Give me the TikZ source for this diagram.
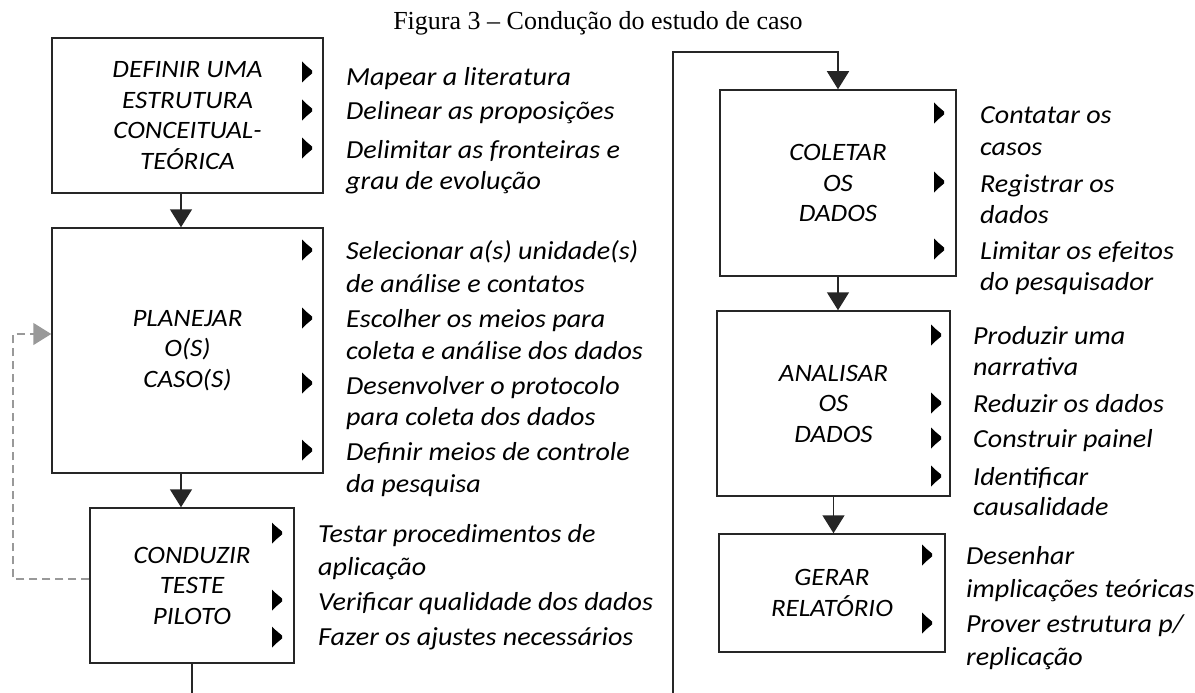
\documentclass[tikz,border=0pt]{standalone}
\usepackage{fontspec}
\setmainfont[FakeStretch=1.08]{Carlito}
\newfontfamily\titlefont{Liberation Serif}
\usetikzlibrary{arrows.meta}
\begin{document}
\begin{tikzpicture}[x=1pt,y=-1pt,
 box/.style={draw=black!85, line width=1.5pt, inner sep=0pt, font=\fontsize{25}{30.5}\selectfont\itshape, align=center, text=black},
 item/.style={font=\fontsize{26}{31}\selectfont\itshape, anchor=base west, inner sep=0pt, text=black},
 flow/.style={line width=1.5pt, draw=black!85, -{Triangle[width=22pt,length=18pt]}},
 plain/.style={line width=1.5pt, draw=black!85},
 loop/.style={line width=1.5pt, draw=black!40, dash pattern=on 8pt off 5pt, -{Triangle[width=22pt,length=18pt]}},
 blt/.pic={\fill[black] (0,-10.5) -- (3.5,-7) -- (10,-1.5) -- (10,1.5) -- (3.5,7) -- (0,10.5) -- cycle;}
]
\useasboundingbox (0,0) rectangle (1195,693);

\node[font=\titlefont\fontsize{26}{30}\selectfont, anchor=base, inner sep=0pt] (title) at (598,30) {Figura 3 – Condução do estudo de caso};

% boxes
\node[box, minimum width=271pt, minimum height=155pt] (b1) at (187.5,115.5) {DEFINIR UMA\\ESTRUTURA\\CONCEITUAL-\\TEÓRICA};
\node[box, minimum width=271pt, minimum height=245pt] (b2) at (187.5,350.5) {PLANEJAR\\O(S)\\CASO(S)};
\node[box, minimum width=204pt, minimum height=155pt] (b3) at (192,585.5) {CONDUZIR\\TESTE\\PILOTO};
\node[box, minimum width=236pt, minimum height=186pt] (b4) at (838,183) {COLETAR\\OS\\DADOS};
\node[box, minimum width=233pt, minimum height=185pt] (b5) at (833.5,403.5) {ANALISAR\\OS\\DADOS};
\node[box, minimum width=226pt, minimum height=118pt] (b6) at (832,593) {GERAR\\RELATÓRIO};

% connectors
\draw[flow] (b1.south -| 181,0) -- (b2.north -| 181,0);
\draw[flow] (b2.south -| 181,0) -- (b3.north -| 181,0);
\coordinate (cut1) at (192,693);
\draw[plain] (b3.south) -- (cut1);
\coordinate (cut2) at (673,693);
\draw[flow] (cut2) -- (673,52) -| (b4.north);
\draw[flow] (b4.south) -- (b5.north -| b4.south);
\draw[flow] (b5.south) -- (b6.north -| b5.south);
\draw[loop] (b3.west |- 0,579) -- (13,579) -- (13,334) -- (b2.west |- 0,334);

% bullets
\foreach \y in {72,110,148} \pic at (302,\y) {blt};
\foreach \y in {250,318,383,450} \pic at (302,\y) {blt};
\foreach \y in {533,600,637} \pic at (272,\y) {blt};
\foreach \y in {113,182,249} \pic at (934,\y) {blt};
\foreach \y in {335,403,438,476} \pic at (931,\y) {blt};
\foreach \y in {555,623} \pic at (922,\y) {blt};

% items box 1
\node[item] (i1a) at (346,85) {Mapear a literatura};
\node[item] (i1b) at (346,119) {Delinear as proposições};
\node[item] (i1c) at (346,158) {Delimitar as fronteiras e};
\node[item] (i1d) at (346,189) {grau de evolução};
% items box 2
\node[item] (i2a) at (346,259) {Selecionar a(s) unidade(s)};
\node[item] (i2b) at (346,292) {de análise e contatos};
\node[item] (i2c) at (346,327) {Escolher os meios para};
\node[item] (i2d) at (346,359) {coleta e análise dos dados};
\node[item] (i2e) at (346,394) {Desenvolver o protocolo};
\node[item] (i2f) at (346,425) {para coleta dos dados};
\node[item] (i2g) at (346,460) {Definir meios de controle};
\node[item] (i2h) at (346,492) {da pesquisa};
% items box 3
\node[item] (i3a) at (318,542) {Testar procedimentos de};
\node[item] (i3b) at (318,575) {aplicação};
\node[item] (i3c) at (318,610) {Verificar qualidade dos dados};
\node[item] (i3d) at (318,645) {Fazer os ajustes necessários};
% items box 4
\node[item] (i4a) at (980,123) {Contatar os};
\node[item] (i4b) at (980,155) {casos};
\node[item] (i4c) at (980,192) {Registrar os};
\node[item] (i4d) at (980,223) {dados};
\node[item] (i4e) at (980,259) {Limitar os efeitos};
\node[item] (i4f) at (980,290) {do pesquisador};
% items box 5
\node[item] (i5a) at (973,344) {Produzir uma};
\node[item] (i5b) at (973,375) {narrativa};
\node[item] (i5c) at (973,412) {Reduzir os dados};
\node[item] (i5d) at (973,447) {Construir painel};
\node[item] (i5e) at (973,485) {Identificar};
\node[item] (i5f) at (973,515) {causalidade};
% items box 6
\node[item] (i6a) at (966,564) {Desenhar};
\node[item] (i6b) at (966,597) {implicações teóricas};
\node[item] (i6c) at (966,632) {Prover estrutura p/};
\node[item] (i6d) at (966,665) {replicação};
\end{tikzpicture}
\end{document}
